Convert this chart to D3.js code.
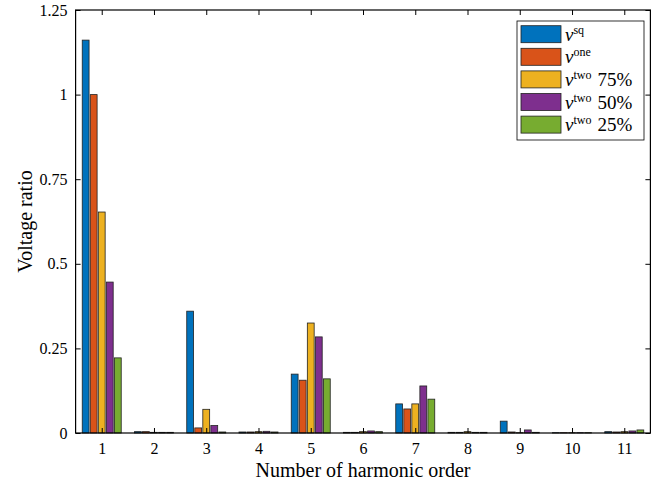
<!DOCTYPE html>
<html>
<head>
<meta charset="utf-8">
<script src="https://cdn.jsdelivr.net/npm/d3@7"></script>
<style>
  html, body { margin: 0; padding: 0; background: #fff; }
  svg text { font-family: "Liberation Serif", "DejaVu Serif", serif; fill: #000; }
</style>
</head>
<body>
<div id="chart"></div>
<script>
const categories = [1, 2, 3, 4, 5, 6, 7, 8, 9, 10, 11];
const seriesNames = ["sq", "one", "two75", "two50", "two25"];
const vSq    = [1.161, 0.004, 0.360, 0.003, 0.174, 0.002, 0.086, 0.002, 0.035, 0.001, 0.004];
const vOne   = [1.000, 0.004, 0.015, 0.003, 0.156, 0.002, 0.071, 0.002, 0.003, 0.001, 0.003];
const vTwo75 = [0.653, 0.002, 0.070, 0.004, 0.325, 0.004, 0.086, 0.004, 0.001, 0.001, 0.004];
const vTwo50 = [0.446, 0.002, 0.022, 0.005, 0.284, 0.006, 0.139, 0.002, 0.009, 0.001, 0.006];
const vTwo25 = [0.222, 0.002, 0.003, 0.003, 0.160, 0.004, 0.100, 0.002, 0.002, 0.001, 0.009];
const yTicks = [0, 0.25, 0.5, 0.75, 1, 1.25];
const yTickLabels = ["0", "0.25", "0.5", "0.75", "1", "1.25"];
const legendSup = ["sq", "one", "two", "two", "two"];
const legendPct = ["", "", "75%", "50%", "25%"];
const colors = ["#0072BD", "#D95319", "#EDB120", "#7E2F8E", "#77AC30"];
const seriesValues = [vSq, vOne, vTwo75, vTwo50, vTwo25];

const W = 662, H = 485;
const L = 75.6, R = 650.4, T = 10, B = 433;

const svg = d3.select("#chart").append("svg").attr("width", W).attr("height", H);

const x = d3.scaleLinear().domain([0.5, 11.5]).range([L, R]);
const y = d3.scaleLinear().domain([0, 1.25]).range([B, T]);

const nS = seriesValues.length;
const groupW = Math.min(0.8, nS / (nS + 1.5));
const slot = groupW / nS;
const barW = slot * 0.85;

// bars
seriesValues.forEach((vals, s) => {
  svg.append("g").selectAll("rect").data(vals).join("rect")
    .attr("x", (d, i) => x(categories[i] - groupW / 2 + slot * s + (slot - barW) / 2))
    .attr("width", x(barW) - x(0))
    .attr("y", d => y(d))
    .attr("height", d => y(0) - y(d))
    .attr("fill", colors[s])
    .attr("stroke", "#222")
    .attr("stroke-width", 0.8);
});

// axes
const tickLen = 5;
const xAxisB = d3.axisBottom(x).tickValues(categories).tickSize(-tickLen).tickPadding(10).tickFormat(d3.format("d"));
const gxb = svg.append("g").attr("transform", `translate(0,${B})`).call(xAxisB);
const xAxisT = d3.axisTop(x).tickValues(categories).tickSize(-tickLen).tickFormat("");
const gxt = svg.append("g").attr("transform", `translate(0,${T})`).call(xAxisT);
const yAxisL = d3.axisLeft(y).tickValues(yTicks).tickSize(-tickLen).tickPadding(8).tickFormat((d, i) => yTickLabels[i]);
const gyl = svg.append("g").attr("transform", `translate(${L},0)`).call(yAxisL);
const yAxisR = d3.axisRight(y).tickValues(yTicks).tickSize(-tickLen).tickFormat("");
const gyr = svg.append("g").attr("transform", `translate(${R},0)`).call(yAxisR);

[gxb, gxt, gyl, gyr].forEach(g => {
  g.selectAll(".domain").remove();
  g.selectAll(".tick line").attr("stroke", "#000").attr("stroke-width", 1);
  g.selectAll("text").style("font-size", "16px").style("font-family", "'Liberation Serif', serif");
});

// box
svg.append("rect").attr("x", L).attr("y", T).attr("width", R - L).attr("height", B - T)
  .attr("fill", "none").attr("stroke", "#000").attr("stroke-width", 1.2);

// axis labels
svg.append("text").attr("x", (L + R) / 2).attr("y", 477).attr("text-anchor", "middle")
  .style("font-size", "20px").text("Number of harmonic order");
svg.append("text").attr("transform", `translate(32,${(T + B) / 2}) rotate(-90)`).attr("text-anchor", "middle")
  .style("font-size", "20px").text("Voltage ratio");

// legend
const lg = svg.append("g").attr("transform", "translate(517,21)");
lg.append("rect").attr("x", 0).attr("y", 0).attr("width", 127).attr("height", 119)
  .attr("fill", "#fff").attr("stroke", "#000").attr("stroke-width", 0.8);
seriesNames.forEach((n, i) => {
  const row = lg.append("g").attr("transform", `translate(4,${4.7 + i * 22.6})`);
  row.append("rect").attr("width", 40).attr("height", 17).attr("fill", colors[i])
    .attr("stroke", "#222").attr("stroke-width", 0.8);
  const t = row.append("text").attr("x", 44).attr("y", 15).style("font-size", "19px");
  t.append("tspan").style("font-style", "italic").text("v");
  t.append("tspan").attr("dy", -7).style("font-size", "12px").text(legendSup[i]);
  if (legendPct[i]) {
    t.append("tspan").attr("dy", 7).attr("dx", 6).text(legendPct[i]);
  }
});
</script>
</body>
</html>
